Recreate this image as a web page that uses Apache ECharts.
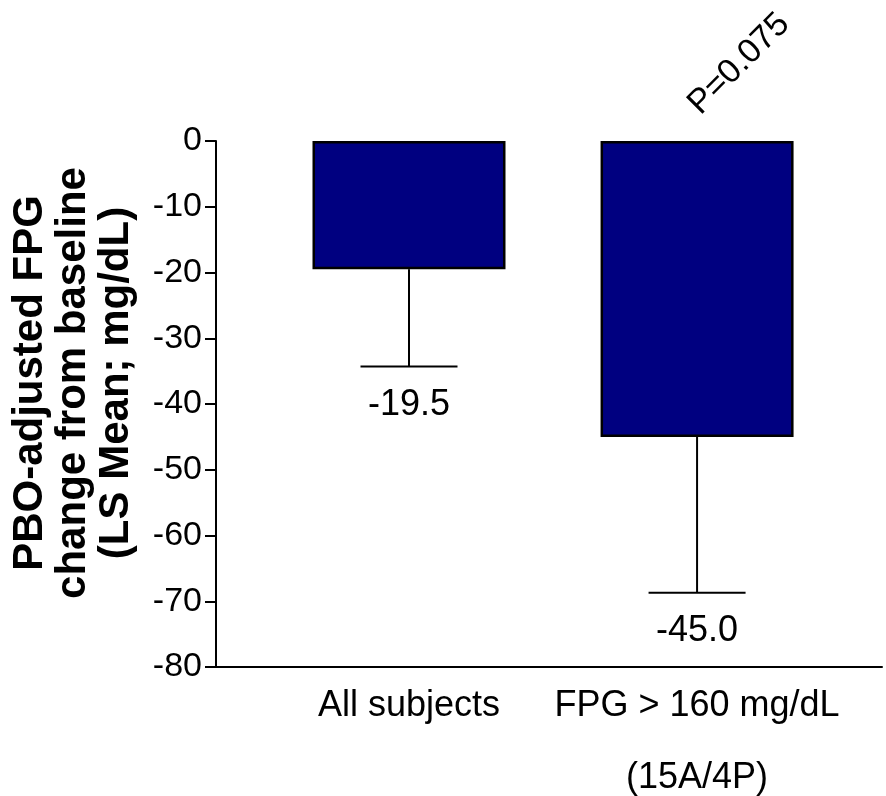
<!DOCTYPE html>
<html>
<head>
<meta charset="utf-8">
<script src="https://cdn.jsdelivr.net/npm/echarts@6/dist/echarts.min.js"></script>
<style>
html,body{margin:0;padding:0;background:#fff;}
#chart{width:886px;height:796px;}
</style>
</head>
<body>
<div id="chart"></div>
<script>
// ---- data ----
var categories = ['All subjects', 'FPG > 160 mg/dL'];
var subLabels = ['', '(15A/4P)'];
var categoryPos = [1, 2];
var lsMeans = [-19.5, -45.0];
var errorLow = [-34.3, -68.7];
var pLabel = 'P=0.075';
var yTicks = [0, -10, -20, -30, -40, -50, -60, -70, -80];

var FONT = 'Liberation Sans, Arial, Helvetica, sans-serif';

var barData = categoryPos.map(function (x, i) { return [x, lsMeans[i]]; });
var errData = categoryPos.map(function (x, i) { return [x, lsMeans[i], errorLow[i]]; });

var chart = echarts.init(document.getElementById('chart'), null, {renderer: 'canvas'});
chart.setOption({
  animation: false,
  backgroundColor: '#fff',
  grid: {left: 216, right: 4, top: 141, bottom: 127, containLabel: false},
  xAxis: {
    type: 'value',
    min: 0.33,
    max: 2.642,
    axisLine: {show: true, onZero: false, lineStyle: {color: '#000', width: 2}},
    axisTick: {show: false},
    splitLine: {show: false},
    axisLabel: {
      customValues: categoryPos,
      margin: 21,
      color: '#000',
      fontFamily: FONT,
      fontSize: 36,
      lineHeight: 36,
      verticalAlign: 'top',
      formatter: function (v) {
        var i = categoryPos.indexOf(Math.round(v));
        if (i < 0) return '';
        return subLabels[i] ? categories[i] + '\n\n' + subLabels[i] : categories[i];
      }
    }
  },
  yAxis: {
    type: 'value',
    min: yTicks[yTicks.length - 1],
    max: yTicks[0],
    interval: 10,
    axisLine: {show: true, onZero: false, lineStyle: {color: '#000', width: 2}},
    axisTick: {show: true, inside: false, length: 11, lineStyle: {color: '#000', width: 2}},
    splitLine: {show: false},
    axisLabel: {margin: 14, color: '#000', fontFamily: FONT, fontSize: 34},
    name: 'PBO-adjusted FPG\nchange from baseline\n(LS Mean; mg/dL)',
    nameLocation: 'middle',
    nameGap: 78,
    nameTextStyle: {
      color: '#000', fontFamily: FONT, fontSize: 42, fontWeight: 'bold',
      lineHeight: 43, padding: [0, 0, 0, 42]
    }
  },
  graphic: [{
    type: 'text',
    x: 739, y: 64,
    rotation: Math.PI / 4,
    style: {
      text: pLabel, fill: '#000', font: '34px ' + FONT,
      align: 'center', verticalAlign: 'middle'
    }
  }],
  series: [{
    type: 'bar',
    data: barData,
    barWidth: 193,
    itemStyle: {color: '#000080', borderColor: '#000', borderWidth: 2.5},
    z: 2
  }, {
    type: 'custom',
    data: errData,
    z: 3,
    renderItem: function (params, api) {
      var x = api.value(0);
      var pm = api.coord([x, api.value(1)]);
      var pl = api.coord([x, api.value(2)]);
      var hw = 48.5;
      return {
        type: 'group',
        children: [{
          type: 'line',
          shape: {x1: pm[0], y1: pm[1], x2: pl[0], y2: pl[1]},
          style: {stroke: '#000', lineWidth: 2}
        }, {
          type: 'line',
          shape: {x1: pl[0] - hw, y1: pl[1], x2: pl[0] + hw, y2: pl[1]},
          style: {stroke: '#000', lineWidth: 2}
        }, {
          type: 'text',
          x: pl[0], y: pl[1] + 38.5,
          style: {
            text: api.value(1).toFixed(1), fill: '#000',
            font: '36px ' + FONT, align: 'center', verticalAlign: 'middle'
          }
        }]
      };
    }
  }]
});
</script>
</body>
</html>
